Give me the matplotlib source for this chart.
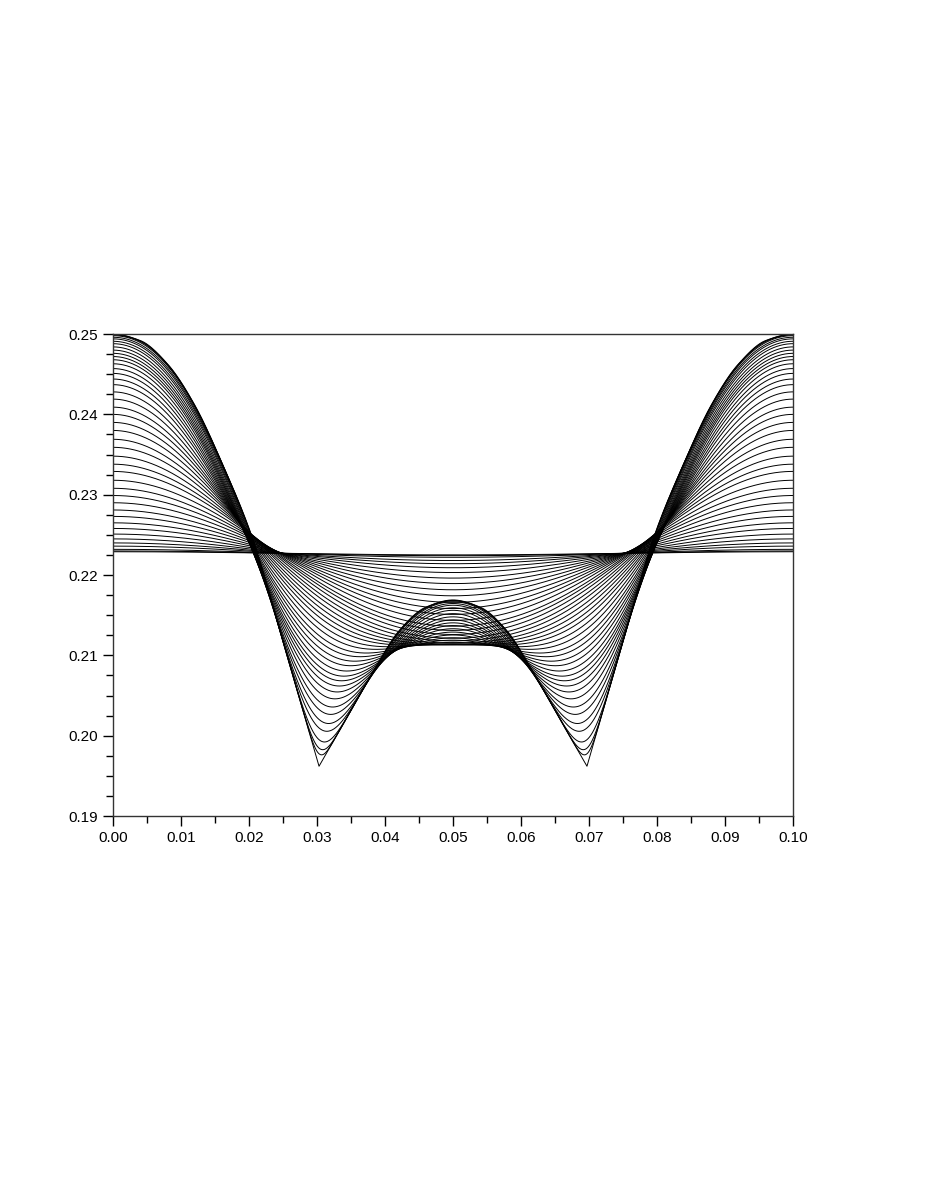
import numpy as np
import matplotlib.pyplot as plt
from matplotlib.ticker import MultipleLocator, FormatStrFormatter

plt.rcParams['font.family'] = ['Liberation Sans', 'DejaVu Sans']

# first (outermost) profile, left half; mirrored about x = 0.05
# the corner of the V sits at x = 0.0303
x_left = [0.0, 0.0040, 0.0080, 0.0120, 0.0160, 0.0204, 0.0250, 0.0303]
u_left = [0.2500, 0.2492, 0.2463, 0.2412, 0.2340, 0.2249, 0.2117, 0.1962]
x_mid = [0.0303, 0.0339, 0.0380, 0.0422, 0.0460, 0.0500]
u_mid = [0.1962, 0.2015, 0.2076, 0.2132, 0.2160, 0.2169]

# value of every drawn curve at the walls (x = 0 and x = 0.1)
u_edge = [0.2500, 0.24995, 0.2499, 0.2498, 0.2496, 0.2494, 0.2491, 0.2488,
          0.2484, 0.2480, 0.2476, 0.2472, 0.2468, 0.2463, 0.2457,
          0.2451, 0.2444, 0.2437, 0.2428, 0.2419, 0.2409, 0.2400, 0.2390,
          0.2380, 0.2369, 0.2359, 0.2348, 0.2338, 0.2329, 0.2318, 0.2308,
          0.2299, 0.2290, 0.2281, 0.2273, 0.2265, 0.2258, 0.2251, 0.2245,
          0.2240, 0.2236, 0.2232, 0.2230, 0.2229]


def pchip(xk, yk, xq, d_start, d_end):
    xk = np.asarray(xk)
    yk = np.asarray(yk)
    h = np.diff(xk)
    delta = np.diff(yk) / h
    d = np.zeros(len(xk))
    for i in range(1, len(xk) - 1):
        if delta[i - 1] * delta[i] > 0:
            w1 = 2 * h[i] + h[i - 1]
            w2 = h[i] + 2 * h[i - 1]
            d[i] = (w1 + w2) / (w1 / delta[i - 1] + w2 / delta[i])
    d[0] = d_start
    d[-1] = d_end
    j = np.clip(np.searchsorted(xk, xq) - 1, 0, len(h) - 1)
    t = (xq - xk[j]) / h[j]
    h00 = 2 * t**3 - 3 * t**2 + 1
    h10 = t**3 - 2 * t**2 + t
    h01 = -2 * t**3 + 3 * t**2
    h11 = t**3 - t**2
    return h00 * yk[j] + h10 * h[j] * d[j] + h01 * yk[j + 1] + h11 * h[j] * d[j + 1]


# the curves are snapshots of a diffusing profile (zero-flux walls)
length = 0.1
x = np.linspace(0, length, 2001)
xs = np.minimum(x, length - x)
slope_in = (u_left[-1] - u_left[-2]) / (x_left[-1] - x_left[-2])
slope_out = (u_mid[1] - u_mid[0]) / (x_mid[1] - x_mid[0])
u0 = np.where(xs <= x_left[-1],
              pchip(x_left, u_left, xs, 0.0, slope_in),
              pchip(x_mid, u_mid, xs, slope_out, 0.0))

modes = np.arange(0, 500)
basis = np.cos(np.outer(modes, x) * np.pi / length)
w = np.ones(x.size)
w[0] = w[-1] = 0.5
coef = 2 * basis @ (u0 * w) / (x.size - 1)
coef[0] /= 2
k2 = (modes * np.pi / length) ** 2


def edge_value(tau):
    return np.sum(coef * np.exp(-k2 * tau))


def find_tau(target):
    lo, hi = -12.0, 0.0
    for _ in range(80):
        mid = 0.5 * (lo + hi)
        if edge_value(10 ** mid) > target:
            lo = mid
        else:
            hi = mid
    return 10 ** (0.5 * (lo + hi))


fig = plt.figure(figsize=(9.26, 11.99), dpi=100)
ax = fig.add_axes([0.122, 0.3194, 0.7344, 0.402])

for i, v in enumerate(u_edge):
    if i == 0:
        ax.plot(x, u0, color='black', lw=0.7)
    else:
        tau = find_tau(v)
        ax.plot(x, (coef * np.exp(-k2 * tau)) @ basis, color='black', lw=0.7)

ax.set_xlim(0, 0.1)
ax.set_ylim(0.19, 0.25)
ax.xaxis.set_major_locator(MultipleLocator(0.01))
ax.xaxis.set_minor_locator(MultipleLocator(0.005))
ax.yaxis.set_major_locator(MultipleLocator(0.01))
ax.yaxis.set_minor_locator(MultipleLocator(0.0025))
ax.xaxis.set_major_formatter(FormatStrFormatter('%.2f'))
ax.yaxis.set_major_formatter(FormatStrFormatter('%.2f'))
ax.tick_params(which='major', direction='out', length=7, width=1, labelsize=11)
ax.tick_params(which='minor', direction='out', length=5, width=1)
for s in ax.spines.values():
    s.set_linewidth(1)
    s.set_color('#333333')

fig.savefig('out.png', dpi=100)
